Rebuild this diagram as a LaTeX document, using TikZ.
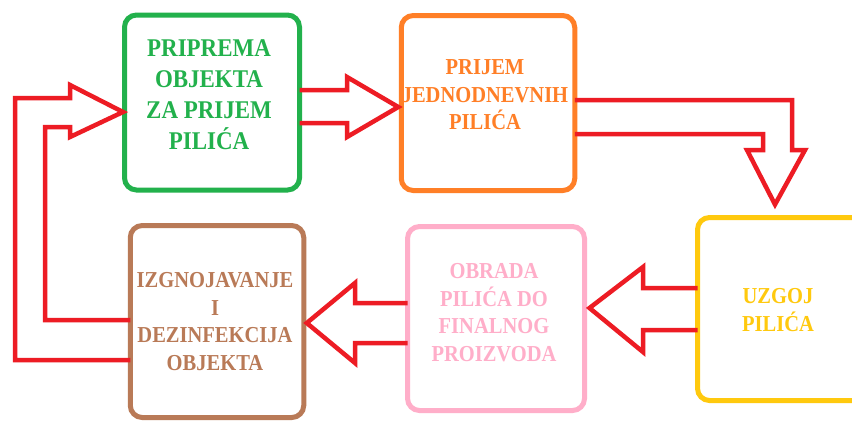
\documentclass[tikz,border=0pt]{standalone}
\usepackage{fontspec}
\setmainfont{Liberation Serif}[FakeStretch=0.9]
\usepackage{tikz}
\usetikzlibrary{calc}
\usepackage{xcolor}
\definecolor{pred}{HTML}{ED1C24}
\definecolor{pgreen}{HTML}{22B14C}
\definecolor{porange}{HTML}{FF7F27}
\definecolor{pyellow}{HTML}{FFC90E}
\definecolor{ppink}{HTML}{FFAEC9}
\definecolor{pbrown}{HTML}{B97A57}
\tikzset{
  box/.style={draw=#1, line width=5pt, rounded corners=12pt, minimum width=175pt, minimum height=175pt, inner sep=0pt, outer sep=0pt},
  txt/.style={text=#1, font=\bfseries\fontsize{22.8}{27.5}\selectfont, align=center, inner sep=0pt},
  blok/.style={draw=pred, line width=4.5pt, line join=miter},
}
\begin{document}
\begin{tikzpicture}[x=1pt, y=-1pt]
\clip (0,0) rectangle (852,421);
\fill[white] (0,0) rectangle (852,421);
% boxes
\node[box=pgreen] (pri) at (212,102.5) {};
\node[box=porange, minimum width=173.5pt] (prij) at (488,103) {};
\node[box=pyellow, minimum height=183pt] (uzg) at (785,309) {};
\node[box=ppink, minimum width=177pt, minimum height=184pt] (obr) at (496,318.5) {};
\node[box=pbrown, minimum width=173.5pt, minimum height=192pt] (izg) at (217,321.5) {};
% texts
\node[txt=pgreen, font=\bfseries\fontsize{25.5}{31}\selectfont] (tpri) at ($(pri)+(-3,-7.5)$) {PRIPREMA\\OBJEKTA\\ZA PRIJEM\\PILIĆA};
\node[txt=porange] (tprij) at ($(prij)+(-3,-8)$) {PRIJEM\\JEDNODNEVNIH\\PILIĆA};
\node[txt=pyellow] (tuzg) at ($(uzg)+(-7,1)$) {UZGOJ\\PILIĆA};
\node[txt=ppink] (tobr) at ($(obr)+(-2,-6)$) {OBRADA\\PILIĆA DO\\FINALNOG\\PROIZVODA};
\node[txt=pbrown] (tizg) at ($(izg)+(-2,0)$) {IZGNOJAVANJE\\I\\DEZINFEKCIJA\\OBJEKTA};
% arrows
\draw[blok] ($(pri.east)+(0,-12.5)$) -- (347,90) -- (347,77) -- ($(prij.west)+(-3,4)$) -- (347,137) -- (347,123) -- ($(pri.east)+(0,20.5)$);
\draw[blok] ($(prij.east)+(0,-3)$) -- (792,100) -- (792,150) -- (805,150) -- ($(uzg.north)+(-10,-13)$) -- (747,150) -- (763,150) -- (763,134) -- ($(prij.east)+(0,31)$);
\draw[blok] ($(uzg.west)+(0,-21)$) -- (643,288) -- (643,267) -- ($(obr.east)+(5,-10.5)$) -- (643,352) -- (643,330) -- ($(uzg.west)+(0,21)$);
\draw[blok] ($(obr.west)+(0,-15.5)$) -- (355,303) -- (355,283) -- ($(izg.east)+(3,1.5)$) -- (355,363) -- (355,343) -- ($(obr.west)+(0,24.5)$);
\draw[blok] ($(izg.west)+(0,38.5)$) -- (15,360) -- (15,98) -- (70,98) -- (70,85) -- ($(pri.west)+(-1.5,9.5)$) -- (70,137) -- (70,127) -- (45,127) -- (45,320) -- ($(izg.west)+(0,-1.5)$);
\end{tikzpicture}
\end{document}
